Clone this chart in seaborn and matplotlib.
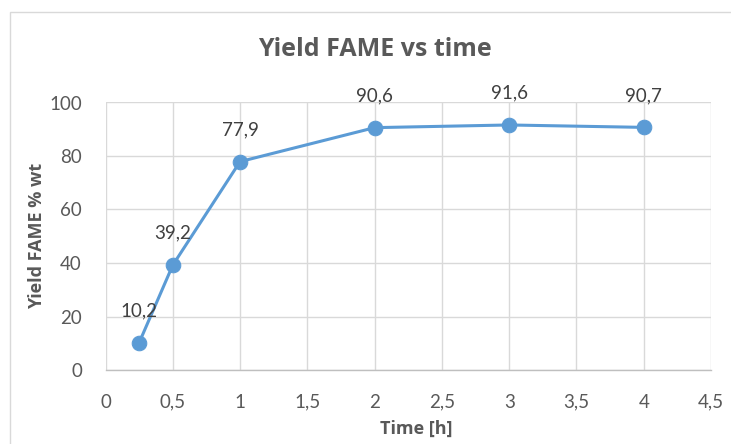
import matplotlib
matplotlib.use("Agg")
import matplotlib.pyplot as plt
import seaborn as sns
import pandas as pd
from matplotlib.patches import Rectangle
from matplotlib.ticker import MultipleLocator, FuncFormatter

# Reaction time (h) and FAME yield (% wt)
time_h = [0.25, 0.5, 1, 2, 3, 4]
yield_pct = [10.2, 39.2, 77.9, 90.6, 91.6, 90.7]

title = "Yield FAME vs time"
x_label = "Time [h]"
y_label = "Yield FAME % wt"

sns.set_theme(style="white")
plt.rcParams["font.family"] = ["Lato", "DejaVu Sans"]

TEXT = "#595959"
GRID = "#D9D9D9"
BLUE = "#5B9BD5"

W, H = 731, 444
fig = plt.figure(figsize=(W / 100, H / 100), dpi=100)
ax = fig.add_axes([105.5 / W, (H - 370) / H, (711 - 105.5) / W, (370 - 102.5) / H])

df = pd.DataFrame({"time": time_h, "yield": yield_pct})
sns.lineplot(data=df, x="time", y="yield", ax=ax, color=BLUE, linewidth=2.2,
             marker="o", markersize=10.5, markeredgecolor=BLUE, markerfacecolor=BLUE,
             zorder=3)

ax.set_xlim(0, 4.5)
ax.set_ylim(0, 100)
ax.xaxis.set_major_locator(MultipleLocator(0.5))
ax.yaxis.set_major_locator(MultipleLocator(20))
comma = FuncFormatter(lambda v, _: f"{v:g}".replace(".", ","))
ax.xaxis.set_major_formatter(comma)
ax.yaxis.set_major_formatter(comma)

ax.grid(True, color=GRID, linewidth=1.0)
ax.set_axisbelow(True)
for side in ("top", "right", "left"):
    ax.spines[side].set_visible(False)
ax.spines["bottom"].set_color("#BFBFBF")
ax.spines["bottom"].set_linewidth(1.0)

ax.tick_params(axis="both", length=0, labelsize=13.5, labelcolor=TEXT)
ax.tick_params(axis="x", pad=17)
ax.tick_params(axis="y", pad=17)

label_font = ["Open Sans", "DejaVu Sans"]
ax.set_xlabel(x_label, fontsize=13, fontweight="bold", color=TEXT, family=label_font)
ax.set_ylabel(y_label, fontsize=13, fontweight="bold", color=TEXT, family=label_font)
ax.xaxis.set_label_coords(0.514, -0.185)
ax.yaxis.set_label_coords(-0.098, 0.5)
fig.text(375 / W, 1 - 50 / H, title, ha="center", va="center",
         fontsize=18, fontweight="bold", color=TEXT, family=label_font)

for t, y in zip(time_h, yield_pct):
    ax.annotate(f"{y:g}".replace(".", ","), (t, y), xytext=(0, 23),
                textcoords="offset points", ha="center", va="center",
                fontsize=13.5, color="#404040")

# Chart area border
fig.patches.append(Rectangle((9.5 / W, -0.1), 1.0, 1.1 - 12.5 / H,
                             transform=fig.transFigure, fill=False,
                             edgecolor=GRID, linewidth=1.0))

fig.savefig("out.png", dpi=100)
